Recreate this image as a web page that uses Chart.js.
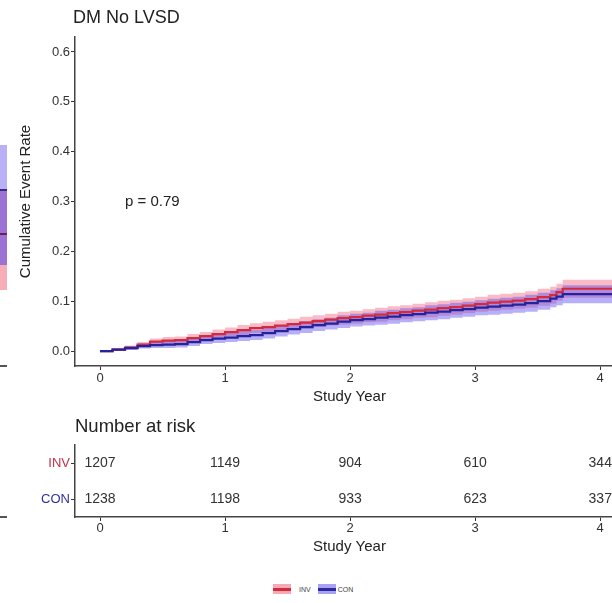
<!DOCTYPE html>
<html>
<head>
<meta charset="utf-8">
<script src="https://cdn.jsdelivr.net/npm/chart.js@4/dist/chart.umd.min.js"></script>
<style>
  html, body { margin: 0; padding: 0; background: #fff; overflow: hidden; }
  #wrap { position: relative; width: 612px; height: 603px; overflow: hidden; background: #fff; font-family: "Liberation Sans", Arial, sans-serif; }
  .box { position: absolute; left: 0; }
  .frag { position: absolute; left: 0; width: 7px; }
  #legend { position: absolute; top: 584px; left: 273px; display: flex; align-items: center; font-size: 7px; color: #444; height: 10px; }
  .sw { width: 18px; height: 10px; position: relative; }
  .sw i { position: absolute; left: 0; right: 0; top: 3.5px; height: 3px; }
</style>
</head>
<body>
<div id="wrap">
  <!-- bits of the neighbouring panel cut at the left edge -->
  <div class="frag" style="top:145px;height:46px;background:#b8b1f6"></div>
  <div class="frag" style="top:191px;height:74px;background:#9c72d2"></div>
  <div class="frag" style="top:265px;height:25px;background:#f6adb8"></div>
  <div class="frag" style="top:189px;height:2px;background:#3a2a80"></div>
  <div class="frag" style="top:233px;height:2px;background:#6a1e60"></div>
  <div class="frag" style="top:365px;height:2px;background:#555"></div>
  <div class="frag" style="top:516px;height:2px;background:#555"></div>

  <div class="box" style="top:0"><canvas id="main" width="624" height="410"></canvas></div>
  <div class="box" style="top:410px"><canvas id="risk" width="624" height="150"></canvas></div>

  <div id="legend">
    <div class="sw" style="background:#f7aab6;margin-right:8px"><i style="background:#d22a3e"></i></div><span style="margin-right:7px">INV</span>
    <div class="sw" style="background:#a9a2f4;margin-right:2px"><i style="background:#2a2a9e"></i></div><span>CON</span>
  </div>
</div>

<script>
// cumulative event rate
const years = [0, 0.1, 0.2, 0.3, 0.4, 0.5, 0.6, 0.7, 0.8, 0.9,
  1.0, 1.1, 1.2, 1.3, 1.4, 1.5, 1.6, 1.7, 1.8, 1.9,
  2.0, 2.1, 2.2, 2.3, 2.4, 2.5, 2.6, 2.7, 2.8, 2.9,
  3.0, 3.1, 3.2, 3.3, 3.4, 3.5, 3.6, 3.65, 3.7, 3.8, 3.9, 4.0, 4.3];

const invRate = [0, 0.003, 0.007, 0.013, 0.019, 0.021, 0.022, 0.026, 0.030, 0.034,
  0.038, 0.042, 0.046, 0.048, 0.051, 0.054, 0.057, 0.060, 0.063, 0.066,
  0.068, 0.071, 0.073, 0.076, 0.078, 0.081, 0.083, 0.086, 0.088, 0.091,
  0.094, 0.097, 0.099, 0.101, 0.104, 0.108, 0.112, 0.118, 0.125, 0.125, 0.125, 0.125, 0.125];
const invUpper = [0, 0.005, 0.011, 0.018, 0.025, 0.028, 0.029, 0.034, 0.038, 0.043,
  0.047, 0.052, 0.056, 0.059, 0.062, 0.065, 0.069, 0.072, 0.075, 0.079,
  0.081, 0.084, 0.087, 0.090, 0.092, 0.095, 0.098, 0.101, 0.103, 0.106,
  0.109, 0.113, 0.115, 0.117, 0.120, 0.125, 0.129, 0.135, 0.143, 0.143, 0.143, 0.143, 0.143];
const invLower = [0, 0.001, 0.003, 0.008, 0.013, 0.014, 0.015, 0.018, 0.022, 0.025,
  0.029, 0.032, 0.036, 0.037, 0.040, 0.043, 0.045, 0.048, 0.051, 0.053,
  0.055, 0.058, 0.059, 0.062, 0.064, 0.067, 0.068, 0.071, 0.073, 0.076,
  0.079, 0.081, 0.083, 0.085, 0.087, 0.091, 0.095, 0.101, 0.107, 0.107, 0.107, 0.107, 0.107];

const conRate = [0, 0.003, 0.006, 0.010, 0.012, 0.013, 0.014, 0.018, 0.022, 0.025,
  0.027, 0.030, 0.032, 0.036, 0.040, 0.044, 0.048, 0.052, 0.055, 0.059,
  0.062, 0.064, 0.067, 0.069, 0.072, 0.074, 0.077, 0.079, 0.082, 0.084,
  0.087, 0.089, 0.091, 0.093, 0.096, 0.100, 0.105, 0.109, 0.114, 0.114, 0.114, 0.114, 0.114];
const conUpper = [0, 0.005, 0.010, 0.015, 0.018, 0.020, 0.021, 0.026, 0.030, 0.034,
  0.036, 0.040, 0.042, 0.047, 0.051, 0.055, 0.060, 0.064, 0.067, 0.072,
  0.075, 0.077, 0.081, 0.083, 0.086, 0.088, 0.092, 0.094, 0.097, 0.099,
  0.102, 0.105, 0.107, 0.109, 0.113, 0.117, 0.122, 0.126, 0.132, 0.132, 0.132, 0.132, 0.132];
const conLower = [0, 0.001, 0.002, 0.005, 0.006, 0.006, 0.007, 0.010, 0.014, 0.016,
  0.018, 0.020, 0.022, 0.025, 0.029, 0.033, 0.036, 0.040, 0.043, 0.046,
  0.049, 0.051, 0.053, 0.055, 0.058, 0.060, 0.062, 0.064, 0.067, 0.069,
  0.072, 0.073, 0.075, 0.077, 0.079, 0.083, 0.088, 0.092, 0.096, 0.096, 0.096, 0.096, 0.096];

// number at risk table
const groups = ["INV", "CON"];
const riskYears = [0, 1, 2, 3, 4];
const invRisk = [1207, 1149, 904, 610, 344];
const conRisk = [1238, 1198, 933, 623, 337];

// tick labels
const xTicks = [0, 1, 2, 3, 4];
const yTicks = [0, 0.1, 0.2, 0.3, 0.4, 0.5, 0.6];

const FONT = '"Liberation Sans", Arial, sans-serif';
const INK = "#333";
const INV_LINE = "#d42a3e";
const CON_LINE = "#25239c";
const INV_BAND = "rgba(240, 85, 110, 0.40)";
const CON_BAND = "rgba(95, 80, 240, 0.45)";

Chart.defaults.font.family = FONT;
Chart.defaults.animation = false;

function pts(values) {
  return years.map((t, i) => ({ x: t, y: values[i] }));
}

function xAxis(height, tickPad) {
  return {
    type: "linear",
    min: -0.2,
    max: 4.19,
    afterBuildTicks: (s) => { s.ticks = xTicks.map((v) => ({ value: v })); },
    afterFit: (s) => { s.height = height; },
    ticks: { font: { size: 13 }, color: INK, padding: tickPad, maxRotation: 0 },
    grid: { drawOnChartArea: false, tickLength: 4, color: INK, lineWidth: 1 },
    border: { color: "#444", width: 1.5 },
    title: { display: true, text: "Study Year", color: "#222", font: { size: 15 }, padding: { top: 0, bottom: 4 } },
  };
}

var bandStyle = { borderWidth: 0, pointRadius: 0, stepped: true };

var titlePlugin = {
  id: "titles",
  afterDraw(chart) {
    const ctx = chart.ctx;
    const x = chart.scales.x, y = chart.scales.y;
    ctx.save();
    ctx.fillStyle = "#222";
    ctx.textBaseline = "middle";
    ctx.textAlign = "left";
    ctx.font = "18px " + FONT;
    ctx.fillText("DM No LVSD", chart.chartArea.left - 2, 18);
    ctx.font = "15px " + FONT;
    ctx.fillText("p = 0.79", x.getPixelForValue(0.2), y.getPixelForValue(0.3));
    ctx.restore();
  },
};

new Chart(document.getElementById("main"), {
  type: "line",
  data: {
    datasets: [
      Object.assign({ label: "INV upper", data: pts(invUpper), fill: "+1", backgroundColor: INV_BAND, order: 3 }, bandStyle),
      Object.assign({ label: "INV lower", data: pts(invLower), fill: false, order: 3 }, bandStyle),
      Object.assign({ label: "CON upper", data: pts(conUpper), fill: "+1", backgroundColor: CON_BAND, order: 2 }, bandStyle),
      Object.assign({ label: "CON lower", data: pts(conLower), fill: false, order: 2 }, bandStyle),
      { label: "INV", data: pts(invRate), borderColor: INV_LINE, borderWidth: 2.2, pointRadius: 0, stepped: true, fill: false, order: 1 },
      { label: "CON", data: pts(conRate), borderColor: CON_LINE, borderWidth: 2.2, pointRadius: 0, stepped: true, fill: false, order: 0 },
    ],
  },
  options: {
    responsive: false,
    events: [],
    layout: { padding: { top: 37, left: 0, right: 0, bottom: 0 } },
    plugins: { legend: { display: false }, tooltip: { enabled: false } },
    scales: {
      x: xAxis(44, 1),
      y: {
        type: "linear",
        min: -0.03,
        max: 0.63,
        afterBuildTicks: (s) => { s.ticks = yTicks.map((v) => ({ value: v })); },
        afterFit: (s) => { s.width = 75; },
        ticks: { font: { size: 13 }, color: INK, padding: 1, callback: (v) => v.toFixed(1) },
        grid: { drawOnChartArea: false, tickLength: 4, color: INK, lineWidth: 1 },
        border: { color: "#444", width: 1.5 },
        title: { display: true, text: "Cumulative Event Rate", color: "#222", font: { size: 15 }, padding: { top: 17, bottom: 0 } },
      },
    },
  },
  plugins: [titlePlugin],
});

// risk table: invisible points placed by the scales, numbers written at them
var riskPlugin = {
  id: "riskNumbers",
  afterDraw(chart) {
    const ctx = chart.ctx;
    ctx.save();
    ctx.fillStyle = "#222";
    ctx.textBaseline = "middle";
    ctx.textAlign = "left";
    ctx.font = "18.5px " + FONT;
    ctx.fillText("Number at risk", chart.chartArea.left, 17);
    ctx.font = "14px " + FONT;
    ctx.textAlign = "center";
    ctx.fillStyle = INK;
    chart.data.datasets.forEach((ds, di) => {
      chart.getDatasetMeta(di).data.forEach((pt, i) => {
        ctx.fillText(String(ds.data[i].n), pt.x, pt.y);
      });
    });
    ctx.restore();
  },
};

function riskPts(group, counts) {
  return riskYears.map((t, i) => ({ x: t, y: group, n: counts[i] }));
}

new Chart(document.getElementById("risk"), {
  type: "scatter",
  data: {
    datasets: [
      { label: "INV", data: riskPts("INV", invRisk), pointRadius: 0 },
      { label: "CON", data: riskPts("CON", conRisk), pointRadius: 0 },
    ],
  },
  options: {
    responsive: false,
    events: [],
    layout: { padding: { top: 35, left: 0, right: 0, bottom: 0 } },
    plugins: { legend: { display: false }, tooltip: { enabled: false } },
    scales: {
      x: xAxis(43, 0),
      y: {
        type: "category",
        labels: groups,
        offset: true,
        afterFit: (s) => { s.width = 75; },
        ticks: {
          font: { size: 13 },
          padding: 1,
          color: (c) => (c.index === 0 ? "#c0304a" : "#2f2f9e"),
        },
        grid: { drawOnChartArea: false, tickLength: 4, color: INK, lineWidth: 1 },
        border: { color: "#444", width: 1.5 },
      },
    },
  },
  plugins: [riskPlugin],
});
</script>
</body>
</html>
